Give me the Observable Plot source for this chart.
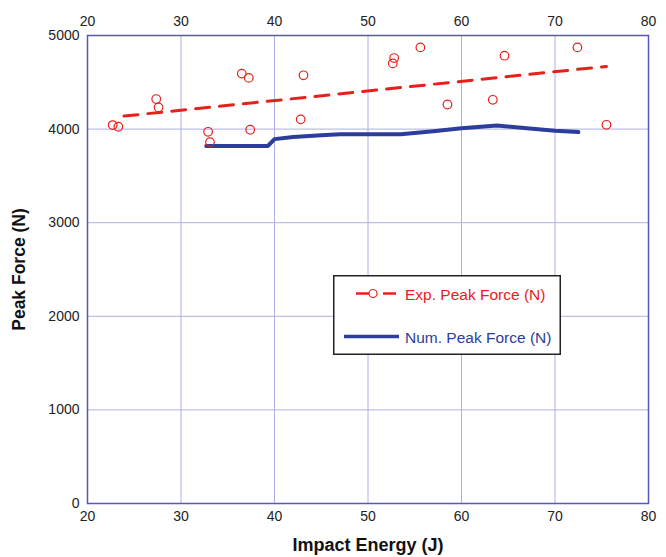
<!DOCTYPE html>
<html>
<head>
<meta charset="utf-8">
<script src="https://cdn.jsdelivr.net/npm/d3@7"></script>
<script src="https://cdn.jsdelivr.net/npm/@observablehq/plot@0.6"></script>
<style>
  body { margin: 0; background: #fff; }
  #wrap { position: relative; width: 666px; height: 557px; font-family: "Liberation Sans", Arial, sans-serif; }
  #legend { position: absolute; left: 333px; top: 275px; }
</style>
</head>
<body>
<div id="wrap"></div>
<script>
// Experimental peak force points
const expX = [22.7, 23.3, 27.35, 27.6, 32.9, 33.1, 36.5, 37.25, 37.4, 42.8, 43.1, 52.8, 52.65, 55.6, 58.5, 63.35, 64.6, 72.4, 75.5];
const expY = [4043, 4025, 4321, 4232, 3971, 3861, 4593, 4547, 3993, 4104, 4575, 4759, 4702, 4873, 4263, 4313, 4784, 4873, 4046];
// Linear fit of experimental data (dashed)
const fitX = [23.9, 75.5];
const fitY = [4139, 4670];
// Numerical peak force
const numX = [32.7, 39.3, 40.0, 42, 45, 47, 53.5, 57, 60, 63.8, 67, 70, 72.5];
const numY = [3820, 3820, 3893, 3915, 3935, 3945, 3945, 3978, 4008, 4038, 4010, 3982, 3968];
// Ticks
const xTicks = [20, 30, 40, 50, 60, 70, 80];
const yTicks = [0, 1000, 2000, 3000, 4000, 5000];

const expData = expX.map((x, i) => ({x, y: expY[i]}));
const fitData = fitX.map((x, i) => ({x, y: fitY[i]}));
const numData = numX.map((x, i) => ({x, y: numY[i]}));

const gridColor = "#aeaee6";
const frameColor = "#5656c4";
const red = "#e8201c";
const blue = "#2c3d9c";
const titleFont = "'Liberation Sans Narrow', 'Liberation Sans', Arial, sans-serif";

const chart = Plot.plot({
  width: 666,
  height: 557,
  marginLeft: 87,
  marginRight: 18,
  marginTop: 35,
  marginBottom: 54,
  style: {fontFamily: "'Liberation Sans', Arial, sans-serif", fontSize: "14px", color: "#222", background: "#fff"},
  x: {domain: [20, 80]},
  y: {domain: [0, 5000]},
  marks: [
    Plot.gridX(xTicks, {stroke: gridColor, strokeOpacity: 1, strokeWidth: 1}),
    Plot.gridY(yTicks, {stroke: gridColor, strokeOpacity: 1, strokeWidth: 1}),
    Plot.axisX(xTicks, {anchor: "bottom", tickSize: 0, tickPadding: 8, label: null, fontSize: 14, tickFormat: d3.format("d")}),
    Plot.axisX(xTicks, {anchor: "top", tickSize: 0, tickPadding: 10, label: null, fontSize: 14, tickFormat: d3.format("d")}),
    Plot.axisY(yTicks, {anchor: "left", tickSize: 0, tickPadding: 8, label: null, fontSize: 14, tickFormat: d3.format("d")}),
    Plot.frame({stroke: frameColor, strokeWidth: 1.5}),
    Plot.line(fitData, {x: "x", y: "y", stroke: red, strokeWidth: 3, strokeDasharray: "14,10"}),
    Plot.line(numData, {x: "x", y: "y", stroke: blue, strokeWidth: 4}),
    Plot.dot(expData, {x: "x", y: "y", r: 4.3, stroke: red, strokeWidth: 1.2, fill: "none"}),
    Plot.text(["Impact Energy (J)"], {frameAnchor: "bottom", lineAnchor: "middle", textAnchor: "middle", dy: 42, fontSize: 18, fontWeight: "bold", fill: "#111", fontFamily: titleFont}),
    Plot.text(["Peak Force (N)"], {frameAnchor: "left", textAnchor: "middle", lineAnchor: "middle", dx: -68, rotate: -90, fontSize: 17.5, fontWeight: "bold", fill: "#111", fontFamily: titleFont})
  ]
});

const wrap = document.getElementById("wrap");
wrap.appendChild(chart);

// Legend (overlay box)
const legend = document.createElement("div");
legend.id = "legend";
legend.innerHTML = `
<svg width="228" height="80" xmlns="http://www.w3.org/2000/svg" style="font-family:'Liberation Sans', Arial, sans-serif">
  <rect x="0.75" y="0.75" width="226.5" height="78.5" fill="#fff" stroke="#222" stroke-width="1.5"/>
  <line x1="23" y1="18.5" x2="36" y2="18.5" stroke="${red}" stroke-width="2.5"/>
  <circle cx="40" cy="18.5" r="4" fill="none" stroke="${red}" stroke-width="1.2"/>
  <line x1="50" y1="18.5" x2="63" y2="18.5" stroke="${red}" stroke-width="2.5"/>
  <text x="72" y="25" font-size="15.5" fill="${red}">Exp. Peak Force (N)</text>
  <line x1="11" y1="61.5" x2="66" y2="61.5" stroke="${blue}" stroke-width="3.5"/>
  <text x="72" y="68" font-size="15.5" fill="${blue}">Num. Peak Force (N)</text>
</svg>`;
wrap.appendChild(legend);
</script>
</body>
</html>
